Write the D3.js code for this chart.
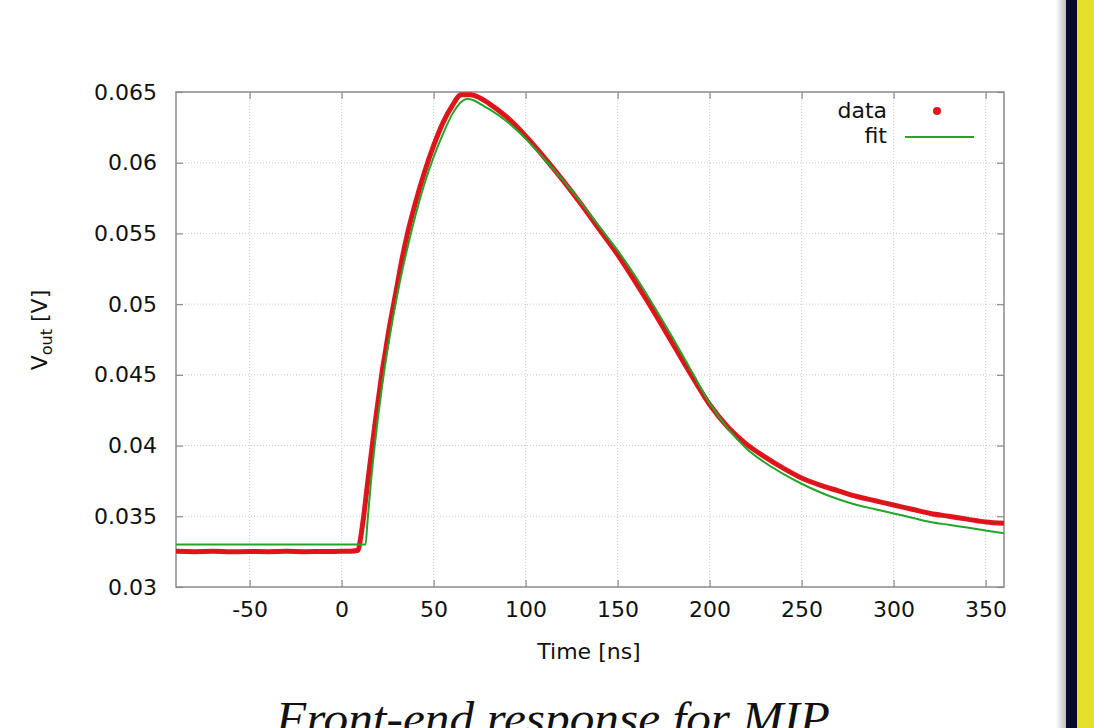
<!DOCTYPE html>
<html>
<head>
<meta charset="utf-8">
<script src="https://cdn.jsdelivr.net/npm/d3@7/dist/d3.min.js"></script>
<style>
  html, body { margin: 0; padding: 0; background: #fff; }
  svg { display: block; }
</style>
</head>
<body>
<script>
// ---- data ----
const dataTime = [-90, -80, -70, -60, -50, -40, -30, -20, -10, 0, 5, 9, 10, 12, 14, 16, 18, 20, 22, 24, 26, 28, 30, 33, 36, 40, 45, 50, 55, 60, 65, 70, 75, 80, 90, 100, 110, 120, 130, 140, 150, 160, 170, 180, 190, 200, 210, 220, 230, 240, 250, 260, 270, 280, 290, 300, 310, 320, 330, 340, 350, 360];
const dataVolt = [0.03252, 0.03250, 0.03252, 0.03249, 0.03251, 0.03250, 0.03252, 0.03250, 0.03251, 0.03252, 0.03253, 0.03260, 0.0332, 0.0350, 0.0372, 0.0393, 0.0414, 0.0433, 0.0452, 0.0468, 0.0484, 0.0498, 0.0512, 0.0533, 0.0551, 0.0571, 0.0593, 0.0612, 0.0628, 0.0640, 0.0648, 0.0648, 0.0646, 0.0642, 0.0632, 0.0619, 0.0604, 0.0588, 0.0571, 0.0553, 0.0535, 0.0515, 0.0494, 0.0472, 0.0450, 0.0429, 0.0413, 0.0401, 0.0392, 0.0384, 0.0377, 0.0372, 0.0368, 0.0364, 0.0361, 0.0358, 0.0355, 0.0352, 0.0350, 0.0348, 0.0346, 0.0345];

const fitTime = [-90, 0, 13, 14, 16, 18, 20, 22, 24, 26, 28, 30, 33, 36, 40, 45, 50, 55, 60, 65, 68, 72, 76, 80, 90, 100, 110, 120, 130, 140, 150, 160, 170, 180, 190, 200, 210, 220, 230, 240, 250, 260, 270, 280, 290, 300, 310, 320, 330, 340, 350, 360];
const fitVolt = [0.0330, 0.0330, 0.0330, 0.0345, 0.0375, 0.0400, 0.0422, 0.0442, 0.0460, 0.0476, 0.0491, 0.0505, 0.0524, 0.0541, 0.0562, 0.0585, 0.0604, 0.0620, 0.0634, 0.0643, 0.0645, 0.0644, 0.0641, 0.0638, 0.0629, 0.0617, 0.0603, 0.0588, 0.0572, 0.0555, 0.0538, 0.0519, 0.0498, 0.0476, 0.0453, 0.0430, 0.0412, 0.0398, 0.0388, 0.0380, 0.0373, 0.0367, 0.0362, 0.0358, 0.0355, 0.0352, 0.0349, 0.0346, 0.0344, 0.0342, 0.0340, 0.0338];

const xTicks = [-50, 0, 50, 100, 150, 200, 250, 300, 350];
const yTicks = [0.03, 0.035, 0.04, 0.045, 0.05, 0.055, 0.06, 0.065];
const yTickLabels = ["0.03", "0.035", "0.04", "0.045", "0.05", "0.055", "0.06", "0.065"];
const legendNames = ["data", "fit"];

const width = 1094, height = 728;

const svg = d3.select("body").append("svg")
  .attr("width", width)
  .attr("height", height);

svg.append("rect").attr("width", width).attr("height", height).attr("fill", "#fff");

// right side bars (slide border)
const defs = svg.append("defs");
const shade = defs.append("linearGradient").attr("id", "shade");
shade.append("stop").attr("offset", "0%").attr("stop-color", "#fff");
shade.append("stop").attr("offset", "100%").attr("stop-color", "#bdbdbd");
svg.append("rect").attr("x", 1056).attr("y", 0).attr("width", 10).attr("height", height).attr("fill", "url(#shade)");
svg.append("rect").attr("x", 1066).attr("y", 0).attr("width", 11).attr("height", height).attr("fill", "#050a2c");
svg.append("rect").attr("x", 1077).attr("y", 0).attr("width", 17).attr("height", height).attr("fill", "#e4df2a");

const x = d3.scaleLinear().domain([-90, 360]).range([176, 1004]);
const y = d3.scaleLinear().domain([0.03, 0.065]).range([587, 92]);

const plotW = 1004 - 176, plotH = 587 - 92;

// grid
const grid = svg.append("g")
  .attr("stroke", "#cdcdcd")
  .attr("stroke-width", 1)
  .attr("stroke-dasharray", "1,2");
grid.selectAll(".gx").data(xTicks).join("line")
  .attr("x1", d => x(d)).attr("x2", d => x(d))
  .attr("y1", y.range()[0]).attr("y2", y.range()[1]);
grid.selectAll(".gy").data(yTicks.slice(1, -1)).join("line")
  .attr("y1", d => y(d)).attr("y2", d => y(d))
  .attr("x1", x.range()[0]).attr("x2", x.range()[1]);

// axes with inward ticks
const tickLen = 7;
const axisFont = "'DejaVu Sans', sans-serif";

const xAxis = d3.axisBottom(x).tickValues(xTicks).tickSizeInner(-tickLen).tickSizeOuter(0).tickPadding(14)
  .tickFormat(d => String(d));
const gx = svg.append("g").attr("transform", `translate(0,${y(0.03)})`).call(xAxis);
const xTop = d3.axisTop(x).tickValues(xTicks).tickSizeInner(-tickLen).tickSizeOuter(0).tickFormat("");
const gxt = svg.append("g").attr("transform", `translate(0,${y(0.065)})`).call(xTop);

const yAxis = d3.axisLeft(y).tickValues(yTicks).tickSizeInner(-tickLen).tickSizeOuter(0).tickPadding(19)
  .tickFormat((d, i) => yTickLabels[i]);
const gy = svg.append("g").attr("transform", `translate(${x(-90)},0)`).call(yAxis);
const yRight = d3.axisRight(y).tickValues(yTicks).tickSizeInner(-tickLen).tickSizeOuter(0).tickFormat("");
const gyr = svg.append("g").attr("transform", `translate(${x(360)},0)`).call(yRight);

[gx, gxt, gy, gyr].forEach(g => {
  g.select(".domain").remove();
  g.selectAll("line").attr("stroke", "#8a8a8a").attr("stroke-width", 1.2);
  g.selectAll("text").attr("font-family", axisFont).attr("font-size", 22).attr("fill", "#111");
});
gx.selectAll("text").attr("dy", "0.71em");

// frame
svg.append("rect")
  .attr("x", x(-90)).attr("y", y(0.065))
  .attr("width", plotW).attr("height", plotH)
  .attr("fill", "none").attr("stroke", "#8a8a8a").attr("stroke-width", 1.5);

// clip
defs.append("clipPath").attr("id", "plotclip").append("rect")
  .attr("x", x(-90)).attr("y", y(0.065) - 6).attr("width", plotW).attr("height", plotH + 6);

const dataPts = dataTime.map((t, i) => [t, dataVolt[i]]);
const fitPts = fitTime.map((t, i) => [t, fitVolt[i]]);

const line = d3.line().x(d => x(d[0])).y(d => y(d[1])).curve(d3.curveMonotoneX);

const plot = svg.append("g").attr("clip-path", "url(#plotclip)");
plot.append("path").datum(dataPts)
  .attr("d", line)
  .attr("fill", "none").attr("stroke", "#e0161c").attr("stroke-width", 5)
  .attr("stroke-linejoin", "round");
plot.append("path").datum(dataPts)
  .attr("d", line)
  .attr("fill", "none").attr("stroke", "#b8121a").attr("stroke-width", 1.5)
  .attr("stroke-dasharray", "1,2").attr("opacity", 0.6);
plot.append("path").datum(fitPts)
  .attr("d", line)
  .attr("fill", "none").attr("stroke", "#22a52a").attr("stroke-width", 2);

// legend
const leg = svg.append("g").attr("font-family", axisFont).attr("font-size", 22).attr("fill", "#111");
leg.selectAll("text").data(legendNames).join("text")
  .attr("x", 887).attr("y", (d, i) => 110 + i * 25)
  .attr("dy", "0.35em").attr("text-anchor", "end")
  .text(d => d);
leg.append("circle").attr("cx", 937).attr("cy", 111).attr("r", 4).attr("fill", "#e0161c");
leg.append("line").attr("x1", 905).attr("x2", 974).attr("y1", 137).attr("y2", 137)
  .attr("stroke", "#22a52a").attr("stroke-width", 2);

// axis titles
const yl = svg.append("text")
  .attr("transform", "translate(47,330) rotate(-90)")
  .attr("text-anchor", "middle")
  .attr("font-family", axisFont).attr("font-size", 22).attr("fill", "#111");
yl.append("tspan").text("V");
yl.append("tspan").attr("font-size", 16).attr("dy", 5).text("out");
yl.append("tspan").attr("dy", -5).text(" [V]");

svg.append("text")
  .attr("x", 589).attr("y", 651).attr("dy", "0.35em")
  .attr("text-anchor", "middle")
  .attr("font-family", axisFont).attr("font-size", 22).attr("fill", "#111")
  .text("Time [ns]");

// caption, cut by the bottom edge as in the slide
svg.append("text")
  .attr("x", 553).attr("y", 734)
  .attr("text-anchor", "middle")
  .attr("font-family", "'Liberation Serif', serif").attr("font-style", "italic")
  .attr("font-size", 46).attr("fill", "#111")
  .attr("textLength", 554).attr("lengthAdjust", "spacingAndGlyphs")
  .text("Front-end response for MIP");
</script>
</body>
</html>
